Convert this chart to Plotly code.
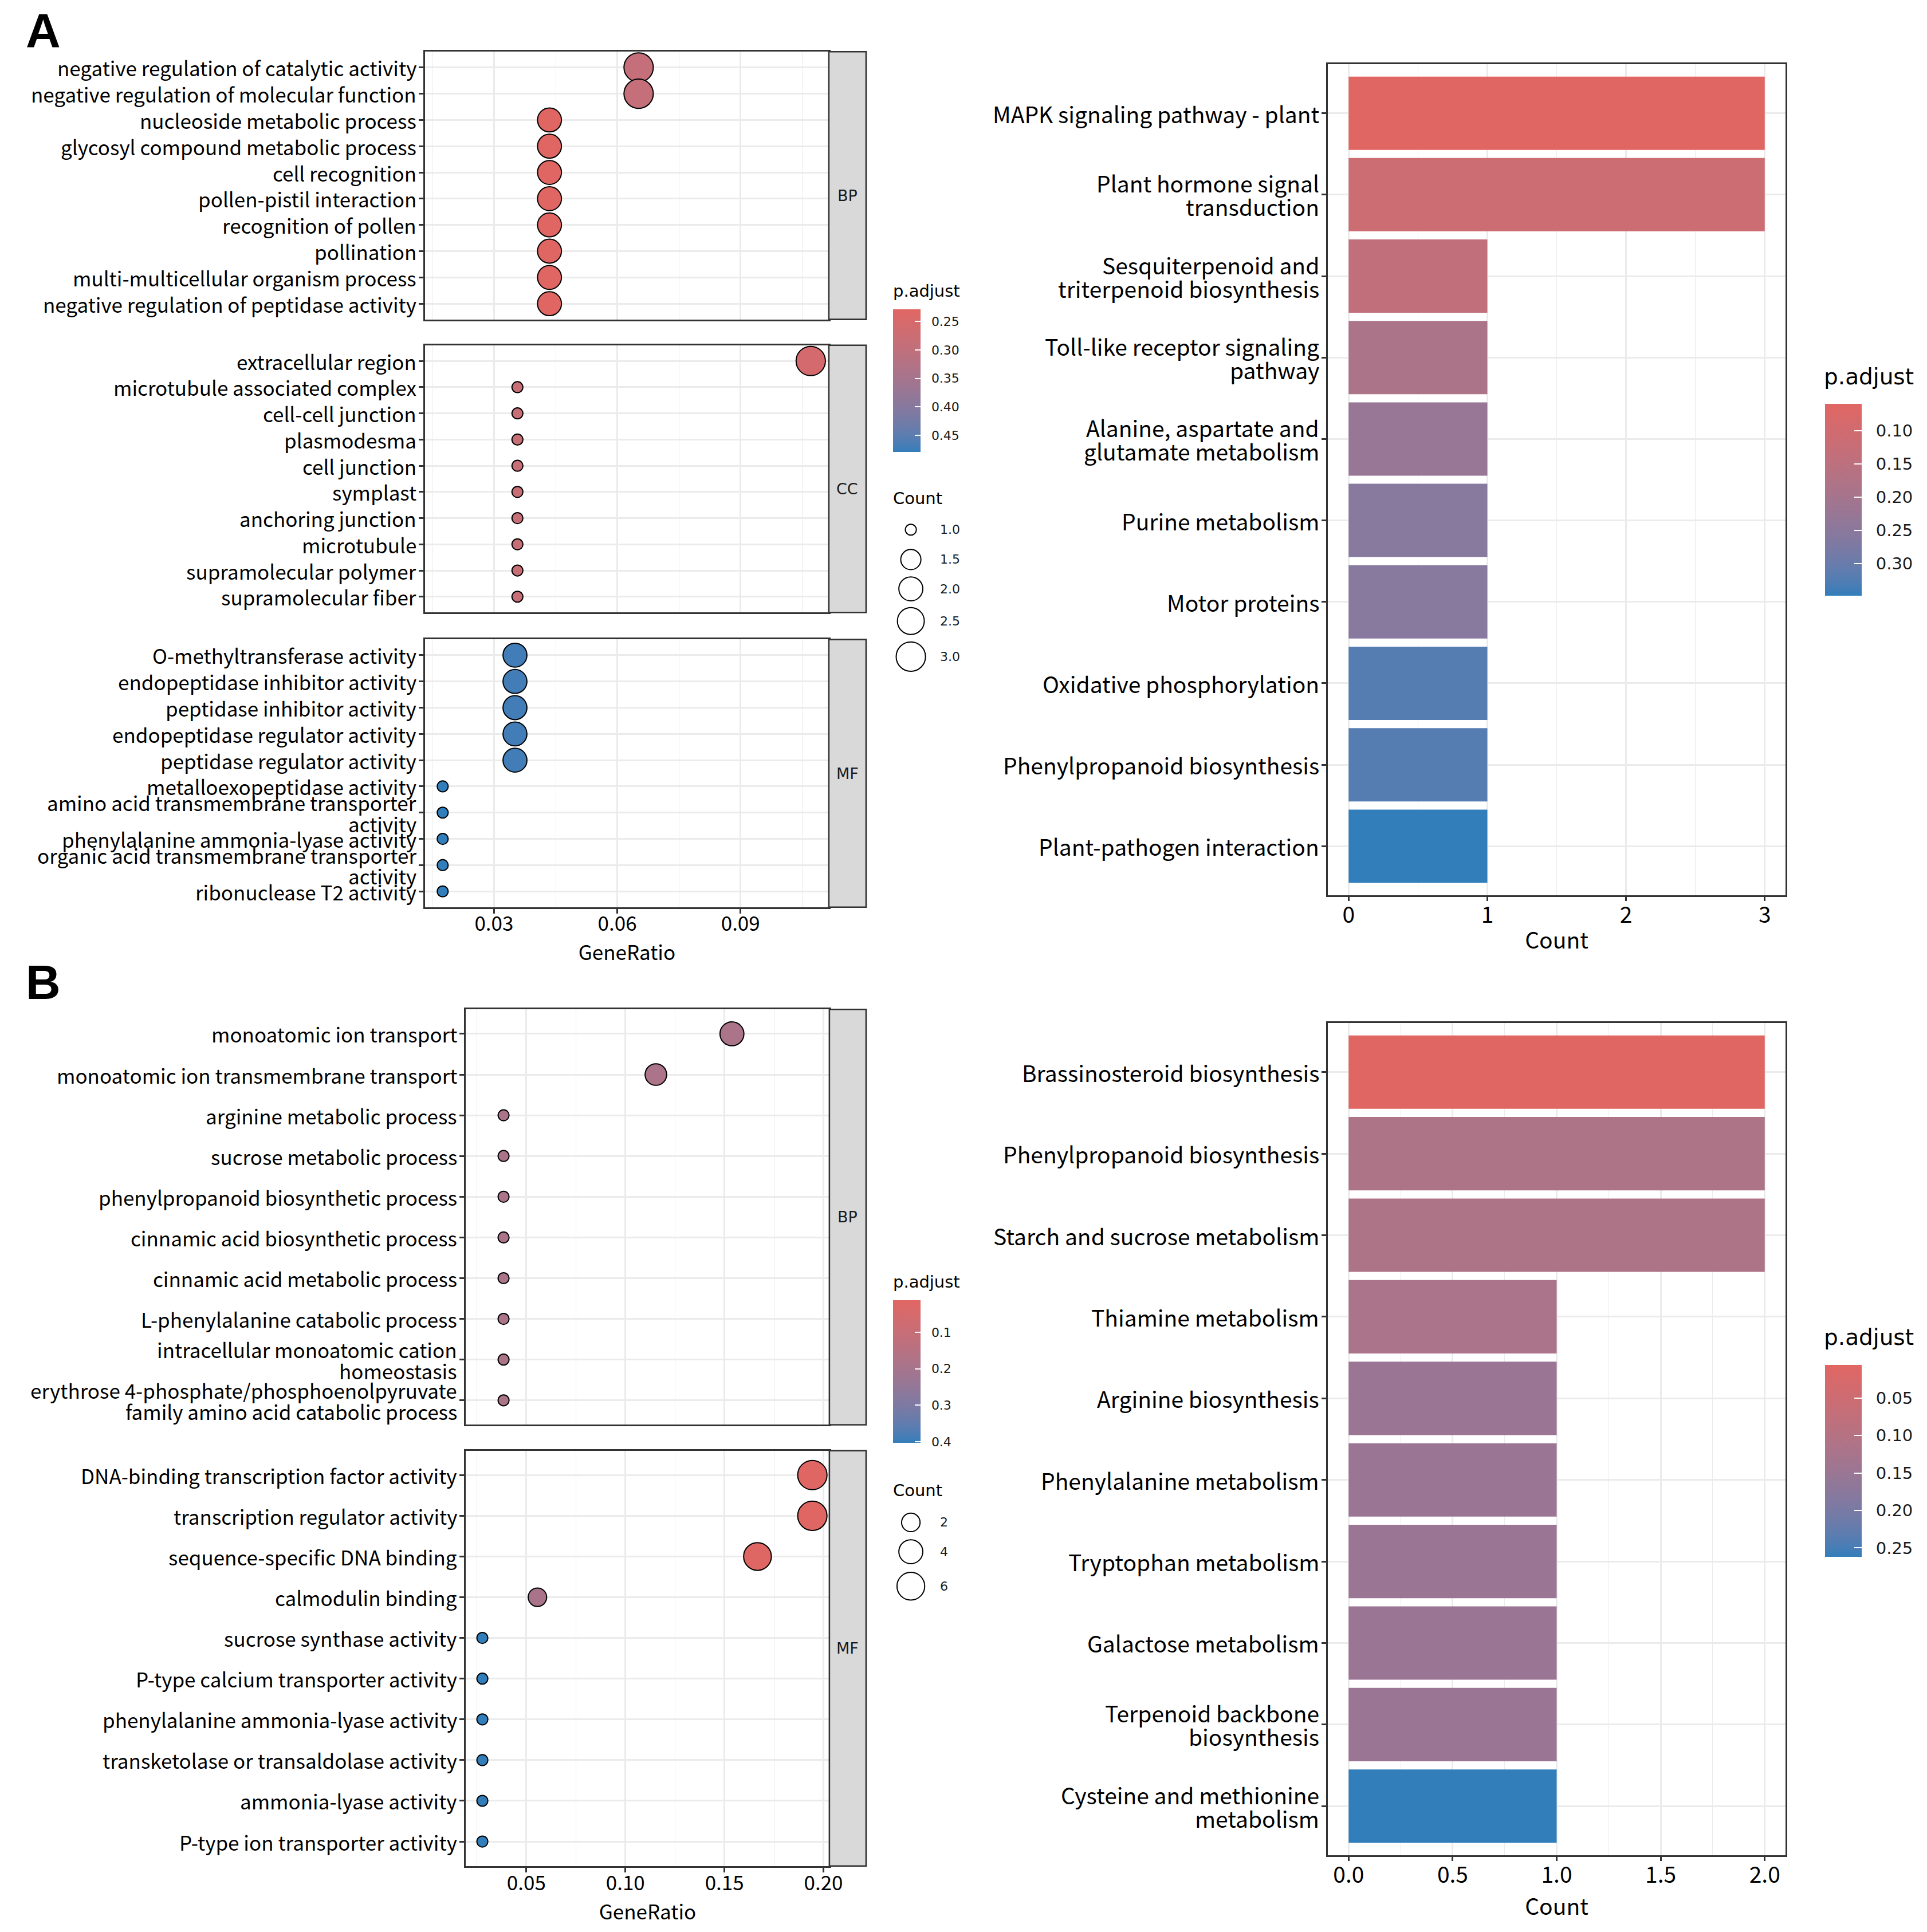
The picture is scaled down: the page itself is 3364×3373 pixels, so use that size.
import math
import plotly.graph_objects as go

W, H = 3364, 3373

# ---------------------------------------------------------------- data
a_bp_terms = ["negative regulation of catalytic activity", "negative regulation of molecular function",
              "nucleoside metabolic process", "glycosyl compound metabolic process", "cell recognition",
              "pollen-pistil interaction", "recognition of pollen", "pollination",
              "multi-multicellular organism process", "negative regulation of peptidase activity"]
a_bp_ratio = [0.0652, 0.0652, 0.0435, 0.0435, 0.0435, 0.0435, 0.0435, 0.0435, 0.0435, 0.0435]
a_bp_count = [3, 3, 2, 2, 2, 2, 2, 2, 2, 2]
a_bp_padj = [0.290, 0.290, 0.228, 0.228, 0.228, 0.228, 0.228, 0.228, 0.228, 0.228]

a_cc_terms = ["extracellular region", "microtubule associated complex", "cell-cell junction", "plasmodesma",
              "cell junction", "symplast", "anchoring junction", "microtubule", "supramolecular polymer",
              "supramolecular fiber"]
a_cc_ratio = [0.1071, 0.0357, 0.0357, 0.0357, 0.0357, 0.0357, 0.0357, 0.0357, 0.0357, 0.0357]
a_cc_count = [3, 1, 1, 1, 1, 1, 1, 1, 1, 1]
a_cc_padj = [0.255, 0.285, 0.285, 0.285, 0.285, 0.285, 0.285, 0.285, 0.285, 0.285]

a_mf_terms = ["O-methyltransferase activity", "endopeptidase inhibitor activity", "peptidase inhibitor activity",
              "endopeptidase regulator activity", "peptidase regulator activity", "metalloexopeptidase activity",
              "amino acid transmembrane transporter\nactivity", "phenylalanine ammonia-lyase activity",
              "organic acid transmembrane transporter\nactivity", "ribonuclease T2 activity"]
a_mf_ratio = [0.0351, 0.0351, 0.0351, 0.0351, 0.0351, 0.0175, 0.0175, 0.0175, 0.0175, 0.0175]
a_mf_count = [2, 2, 2, 2, 2, 1, 1, 1, 1, 1]
a_mf_padj = [0.470, 0.470, 0.470, 0.470, 0.470, 0.479, 0.479, 0.479, 0.479, 0.479]

a_kegg_terms = ["MAPK signaling pathway - plant", "Plant hormone signal\ntransduction",
                "Sesquiterpenoid and\ntriterpenoid biosynthesis", "Toll-like receptor signaling\npathway",
                "Alanine, aspartate and\nglutamate metabolism", "Purine metabolism", "Motor proteins",
                "Oxidative phosphorylation", "Phenylpropanoid biosynthesis", "Plant-pathogen interaction"]
a_kegg_count = [3, 3, 1, 1, 1, 1, 1, 1, 1, 1]
a_kegg_padj = [0.060, 0.115, 0.140, 0.185, 0.225, 0.255, 0.255, 0.320, 0.320, 0.348]

b_bp_terms = ["monoatomic ion transport", "monoatomic ion transmembrane transport", "arginine metabolic process",
              "sucrose metabolic process", "phenylpropanoid biosynthetic process",
              "cinnamic acid biosynthetic process", "cinnamic acid metabolic process",
              "L-phenylalanine catabolic process", "intracellular monoatomic cation\nhomeostasis",
              "erythrose 4-phosphate/phosphoenolpyruvate\nfamily amino acid catabolic process"]
b_bp_ratio = [0.1538, 0.1154, 0.0385, 0.0385, 0.0385, 0.0385, 0.0385, 0.0385, 0.0385, 0.0385]
b_bp_count = [4, 3, 1, 1, 1, 1, 1, 1, 1, 1]
b_bp_padj = [0.185, 0.185, 0.185, 0.185, 0.185, 0.185, 0.185, 0.185, 0.185, 0.185]

b_mf_terms = ["DNA-binding transcription factor activity", "transcription regulator activity",
              "sequence-specific DNA binding", "calmodulin binding", "sucrose synthase activity",
              "P-type calcium transporter activity", "phenylalanine ammonia-lyase activity",
              "transketolase or transaldolase activity", "ammonia-lyase activity", "P-type ion transporter activity"]
b_mf_ratio = [0.1944, 0.1944, 0.1667, 0.0556, 0.0278, 0.0278, 0.0278, 0.0278, 0.0278, 0.0278]
b_mf_count = [7, 7, 6, 2, 1, 1, 1, 1, 1, 1]
b_mf_padj = [0.012, 0.012, 0.018, 0.190, 0.403, 0.403, 0.403, 0.403, 0.403, 0.403]

b_kegg_terms = ["Brassinosteroid biosynthesis", "Phenylpropanoid biosynthesis", "Starch and sucrose metabolism",
                "Thiamine metabolism", "Arginine biosynthesis", "Phenylalanine metabolism",
                "Tryptophan metabolism", "Galactose metabolism", "Terpenoid backbone\nbiosynthesis",
                "Cysteine and methionine\nmetabolism"]
b_kegg_count = [2, 2, 2, 1, 1, 1, 1, 1, 1, 1]
b_kegg_padj = [0.006, 0.115, 0.115, 0.120, 0.150, 0.150, 0.150, 0.150, 0.150, 0.262]

# legend breaks / axis ticks
a_dot_cb_ticks = [0.25, 0.30, 0.35, 0.40, 0.45]
a_bar_cb_ticks = [0.10, 0.15, 0.20, 0.25, 0.30]
b_dot_cb_ticks = [0.1, 0.2, 0.3, 0.4]
b_bar_cb_ticks = [0.05, 0.10, 0.15, 0.20, 0.25]
a_size_breaks = [1.0, 1.5, 2.0, 2.5, 3.0]
b_size_breaks = [2, 4, 6]

# ---------------------------------------------------------------- style
AX_FONT = "Noto Sans CJK SC"
LEG_FONT = "DejaVu Sans"
GRID = "#EBEBEB"
LINE = "#333333"
LOW_COL, HIGH_COL = "#e06663", "#327eba"
DOT_FS, BAR_FS = 35, 39
SX, SY = 1.0085, 1.003   # small global placement correction


def _hex(c):
    c = c.lstrip("#")
    return [int(c[i:i + 2], 16) for i in (0, 2, 4)]


def _to_lab(rgb):
    lin = []
    for v in rgb:
        v = v / 255.0
        lin.append(v / 12.92 if v <= 0.04045 else ((v + 0.055) / 1.055) ** 2.4)
    r, g, b = lin
    x = (0.4124 * r + 0.3576 * g + 0.1805 * b) / 0.95047
    y = (0.2126 * r + 0.7152 * g + 0.0722 * b)
    z = (0.0193 * r + 0.1192 * g + 0.9505 * b) / 1.08883
    f = lambda t: t ** (1 / 3) if t > 0.008856 else 7.787 * t + 16 / 116
    fx_, fy_, fz_ = f(x), f(y), f(z)
    return 116 * fy_ - 16, 500 * (fx_ - fy_), 200 * (fy_ - fz_)


def _from_lab(L, a, b):
    fy_ = (L + 16) / 116
    fx_ = fy_ + a / 500
    fz_ = fy_ - b / 200
    finv = lambda t: t ** 3 if t ** 3 > 0.008856 else (t - 16 / 116) / 7.787
    x, y, z = finv(fx_) * 0.95047, finv(fy_), finv(fz_) * 1.08883
    r = 3.2406 * x - 1.5372 * y - 0.4986 * z
    g = -0.9689 * x + 1.8758 * y + 0.0415 * z
    bb = 0.0557 * x - 0.2040 * y + 1.0570 * z
    out = []
    for v in (r, g, bb):
        v = max(0.0, v)
        v = 12.92 * v if v <= 0.0031308 else 1.055 * v ** (1 / 2.4) - 0.055
        out.append(max(0, min(255, round(v * 255))))
    return "rgb(%d,%d,%d)" % tuple(out)


def lab_scale(c_from, c_to, n=21):
    l0, l1 = _to_lab(_hex(c_from)), _to_lab(_hex(c_to))
    return [[i / (n - 1), _from_lab(*[l0[k] + (l1[k] - l0[k]) * i / (n - 1) for k in range(3)])]
            for i in range(n)]


# colour value = -p.adjust so that small p (red) sits on top of the colourbar
COLORSCALE = lab_scale(HIGH_COL, LOW_COL)


def fx(X):
    return X * SX / W


def fy(Y):
    return 1 - Y * SY / H


def dot_size(c, cmin, cmax, k=6.4):
    return k * (3 + 5 * math.sqrt((c - cmin) / (cmax - cmin)))


def cats(labels):
    return [s.replace("\n", " ") for s in labels]


# ---------------------------------------------------------------- layout geometry (pixels)
A_DOT_X = (741, 1445)
B_DOT_X = (812, 1446)
STRIP_R = 1510
A_FACETS = [(90, 556), (601, 1066), (1113, 1579)]
B_FACETS = [(1757, 2480), (2525, 3248)]
BAR_X = (2315, 3113)
A_BAR_Y = (112, 1558)
B_BAR_Y = (1781, 3229)

A_DOT_RANGE = [0.0132, 0.1115]
B_DOT_RANGE = [0.0194, 0.2030]

fig = go.Figure()
layout = dict(width=W, height=H, margin=dict(l=0, r=0, t=0, b=0), paper_bgcolor="white",
              plot_bgcolor="white", showlegend=False)
shapes, annotations = [], []


def x_axis(xr, anchor, rng, tick0, dtick, mdtick, fmt, show, fsize, title=None, lstand=-12, tstand=0):
    d = dict(domain=[fx(xr[0]), fx(xr[1])], anchor=anchor, range=rng, tick0=tick0, dtick=dtick,
             tickformat=fmt, showgrid=True, gridcolor=GRID, gridwidth=2.6,
             minor=dict(dtick=mdtick, tick0=0, showgrid=True, gridcolor=GRID, gridwidth=1.3),
             zeroline=False, showline=True, mirror=True, linecolor=LINE, linewidth=2.6,
             ticks="outside" if show else "", ticklen=8, tickwidth=2.6, tickcolor=LINE,
             showticklabels=show, ticklabelstandoff=lstand,
             tickfont=dict(family=AX_FONT, size=fsize, color="black"))
    if title:
        d["title"] = dict(text=title, font=dict(family=AX_FONT, size=fsize, color="black"),
                          standoff=max(0, tstand))
    return d


def y_axis(yr, anchor, terms, fsize, xname, yname):
    n = len(terms)
    c = cats(terms)
    # category labels drawn as annotations so wrapped labels keep ggplot's tight line spacing
    for term, cat in zip(terms, c):
        lines = term.split("\n")
        lh = 1.05 * fsize
        for j, line in enumerate(lines):
            off = (j - (len(lines) - 1) / 2) * lh
            annotations.append(dict(x=0, xref=xname + " domain", y=cat, yref=yname, xanchor="right",
                                    yanchor="middle", xshift=-13, yshift=-off, text=line, showarrow=False,
                                    font=dict(family=AX_FONT, size=fsize, color="black")))
    return dict(domain=[fy(yr[1]), fy(yr[0])], anchor=anchor, type="category", categoryorder="array",
                categoryarray=c, tickmode="array", tickvals=c, range=[n - 0.4, -0.6], showgrid=True,
                gridcolor=GRID, gridwidth=2.6, zeroline=False, showline=True, mirror=True, linecolor=LINE,
                linewidth=2.6, ticks="outside", ticklen=8, tickwidth=2.6, tickcolor=LINE,
                showticklabels=False)


def strip(xl, yr, label):
    shapes.append(dict(type="rect", xref="paper", yref="paper", x0=fx(xl), x1=fx(STRIP_R),
                       y0=fy(yr[1]), y1=fy(yr[0]), fillcolor="#D9D9D9", line=dict(color=LINE, width=2.6),
                       layer="above"))
    annotations.append(dict(x=fx((xl + STRIP_R) / 2), y=fy((yr[0] + yr[1]) / 2), xref="paper", yref="paper",
                            text=label, showarrow=False, font=dict(family=LEG_FONT, size=27, color="#1A1A1A")))


# ---------------------------------------------------------------- panel A: dot plot
a_all_counts = a_bp_count + a_cc_count + a_mf_count
a_all_padj = a_bp_padj + a_cc_padj + a_mf_padj
a_cmin, a_cmax = min(a_all_counts), max(a_all_counts)

a_facets = [("BP", a_bp_terms, a_bp_ratio, a_bp_count, a_bp_padj),
            ("CC", a_cc_terms, a_cc_ratio, a_cc_count, a_cc_padj),
            ("MF", a_mf_terms, a_mf_ratio, a_mf_count, a_mf_padj)]
for i, (lab, terms, ratio, count, padj) in enumerate(a_facets):
    k = i + 1
    xs = "x" if k == 1 else "x%d" % k
    ys = "y" if k == 1 else "y%d" % k
    fig.add_trace(go.Scatter(x=ratio, y=cats(terms), mode="markers", xaxis=xs, yaxis=ys, cliponaxis=False,
                             marker=dict(size=[dot_size(c, a_cmin, a_cmax) for c in count],
                                         color=[-p for p in padj], coloraxis="coloraxis",
                                         line=dict(color="black", width=2), opacity=1)))
    last = (k == 3)
    layout["xaxis" if k == 1 else "xaxis%d" % k] = x_axis(A_DOT_X, ys, A_DOT_RANGE, 0.03, 0.03, 0.015, ".2f",
                                                          last, DOT_FS, "GeneRatio" if last else None)
    layout["yaxis" if k == 1 else "yaxis%d" % k] = y_axis(A_FACETS[i], xs, terms, DOT_FS, xs, ys)
    strip(A_DOT_X[1], A_FACETS[i], lab)

# ---------------------------------------------------------------- panel A: bar chart
fig.add_trace(go.Bar(x=a_kegg_count, y=cats(a_kegg_terms), orientation="h", width=0.9, xaxis="x4", yaxis="y4",
                     marker=dict(color=[-p for p in a_kegg_padj], coloraxis="coloraxis2", line=dict(width=0))))
layout["xaxis4"] = x_axis(BAR_X, "y4", [-0.15, 3.15], 0, 1, 0.5, "d", True, BAR_FS, "Count", -9, 8)
layout["yaxis4"] = y_axis(A_BAR_Y, "x4", a_kegg_terms, BAR_FS, "x4", "y4")

# ---------------------------------------------------------------- panel B: dot plot
b_all_counts = b_bp_count + b_mf_count
b_all_padj = b_bp_padj + b_mf_padj
b_cmin, b_cmax = min(b_all_counts), max(b_all_counts)
b_facets = [("BP", b_bp_terms, b_bp_ratio, b_bp_count, b_bp_padj),
            ("MF", b_mf_terms, b_mf_ratio, b_mf_count, b_mf_padj)]
for i, (lab, terms, ratio, count, padj) in enumerate(b_facets):
    k = i + 5
    xs, ys = "x%d" % k, "y%d" % k
    fig.add_trace(go.Scatter(x=ratio, y=cats(terms), mode="markers", xaxis=xs, yaxis=ys, cliponaxis=False,
                             marker=dict(size=[dot_size(c, b_cmin, b_cmax) for c in count],
                                         color=[-p for p in padj], coloraxis="coloraxis3",
                                         line=dict(color="black", width=2), opacity=1)))
    last = (i == 1)
    layout["xaxis%d" % k] = x_axis(B_DOT_X, ys, B_DOT_RANGE, 0.05, 0.05, 0.025, ".2f", last, DOT_FS,
                                   "GeneRatio" if last else None, -11, 0)
    layout["yaxis%d" % k] = y_axis(B_FACETS[i], xs, terms, DOT_FS, xs, ys)
    strip(B_DOT_X[1], B_FACETS[i], lab)

# ---------------------------------------------------------------- panel B: bar chart
fig.add_trace(go.Bar(x=b_kegg_count, y=cats(b_kegg_terms), orientation="h", width=0.9, xaxis="x7", yaxis="y7",
                     marker=dict(color=[-p for p in b_kegg_padj], coloraxis="coloraxis4", line=dict(width=0))))
layout["xaxis7"] = x_axis(BAR_X, "y7", [-0.1, 2.1], 0, 0.5, 0.25, ".1f", True, BAR_FS, "Count", -9, 0)
layout["yaxis7"] = y_axis(B_BAR_Y, "x7", b_kegg_terms, BAR_FS, "x7", "y7")


# ---------------------------------------------------------------- colour bars
NB = "\u00a0\u00a0"   # gap between the bar and its labels (white ticks sit inside the bar)


def coloraxis(values, ticks, fmt, x_px, top_px, thick, length, fsize):
    return dict(cmin=-max(values), cmax=-min(values), colorscale=COLORSCALE,
                colorbar=dict(x=fx(x_px), xanchor="left", y=fy(top_px), yanchor="top", len=length,
                              lenmode="pixels", thickness=thick, thicknessmode="pixels", outlinewidth=0,
                              xpad=0, ypad=0, tickvals=[-t for t in ticks],
                              ticktext=[NB + fmt % t for t in ticks],
                              ticks="inside", ticklen=round(thick / 5), tickwidth=2, tickcolor="white",
                              tickfont=dict(family=LEG_FONT, size=fsize, color="#1A1A1A")))


CB_A_DOT = (1557, 538, 48, 249)
CB_A_BAR = (3182, 703, 64, 335)
CB_B_DOT = (1557, 2263, 48, 249)
CB_B_BAR = (3182, 2376, 64, 335)

layout["coloraxis"] = coloraxis(a_all_padj, a_dot_cb_ticks, "%.2f", *CB_A_DOT, 22)
layout["coloraxis2"] = coloraxis(a_kegg_padj, a_bar_cb_ticks, "%.2f", *CB_A_BAR, 29)
layout["coloraxis3"] = coloraxis(b_all_padj, b_dot_cb_ticks, "%.1f", *CB_B_DOT, 22)
layout["coloraxis4"] = coloraxis(b_kegg_padj, b_bar_cb_ticks, "%.2f", *CB_B_BAR, 29)


def leg_title(text, x_px, yc_px, size):
    annotations.append(dict(x=fx(x_px), y=fy(yc_px), xref="paper", yref="paper", xanchor="left",
                            yanchor="middle", text=text, showarrow=False,
                            font=dict(family=LEG_FONT, size=size, color="black")))


leg_title("p.adjust", 1555, 506, 29)
leg_title("p.adjust", 3178, 656, 39)
leg_title("p.adjust", 1555, 2231, 29)
leg_title("p.adjust", 3178, 2328, 39)
leg_title("Count", 1555, 867, 29)
leg_title("Count", 1555, 2594, 29)

# size legends (circle keys)
A_KEY_Y = [922, 974, 1025, 1081, 1143]
B_KEY_Y = [2650, 2701, 2761]
KEY_X, KEY_LABEL_X = 1588, 1637


def size_keys(breaks, cmin, cmax, ys, fmt):
    for v, yc in zip(breaks, ys):
        d = dot_size(v, cmin, cmax)
        shapes.append(dict(type="circle", xref="paper", yref="paper", xsizemode="pixel", ysizemode="pixel",
                           xanchor=fx(KEY_X), yanchor=fy(yc), x0=-d / 2, x1=d / 2, y0=-d / 2, y1=d / 2,
                           line=dict(color="black", width=2), fillcolor="rgba(0,0,0,0)"))
        annotations.append(dict(x=fx(KEY_LABEL_X), y=fy(yc), xref="paper", yref="paper", xanchor="left",
                                yanchor="middle", text=fmt % v, showarrow=False,
                                font=dict(family=LEG_FONT, size=22, color="#1A1A1A")))


size_keys(a_size_breaks, a_cmin, a_cmax, A_KEY_Y, "%.1f")
size_keys(b_size_breaks, b_cmin, b_cmax, B_KEY_Y, "%d")

# panel letters
for letter, (xp, yp) in (("A", (75, 54)), ("B", (75, 1710))):
    annotations.append(dict(x=fx(xp), y=fy(yp), xref="paper", yref="paper", text="<b>%s</b>" % letter,
                            showarrow=False, xanchor="center", yanchor="middle",
                            font=dict(family="Liberation Sans", size=84, color="black")))

layout["shapes"] = shapes
layout["annotations"] = annotations
fig.update_layout(**layout)
fig.write_html("out.html", config={"displayModeBar": False},
               post_script="document.body.style.margin='0px';document.body.style.overflow='hidden';")
